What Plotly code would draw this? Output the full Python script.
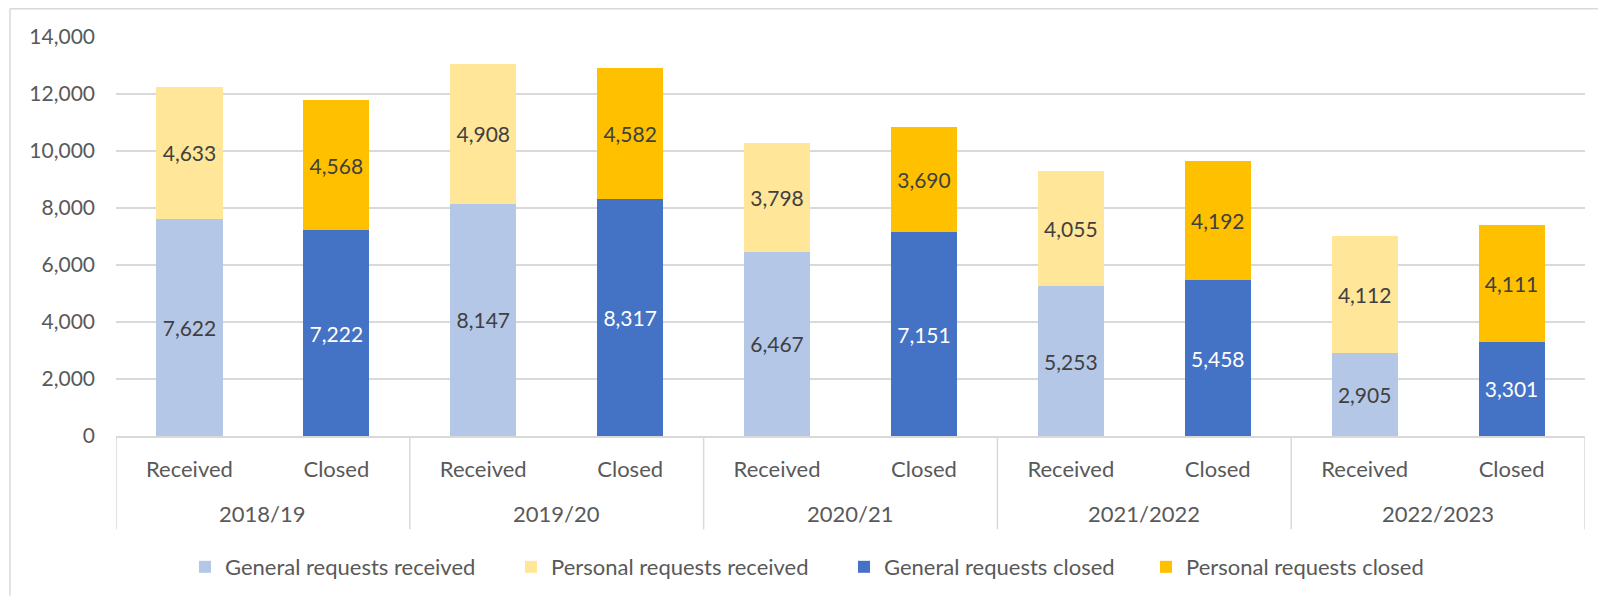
import plotly.graph_objects as go

years = ["2018/19", "2019/20", "2020/21", "2021/2022", "2022/2023"]
subcats = ["Received", "Closed"]
general_received = [7622, 8147, 6467, 5253, 2905]
personal_received = [4633, 4908, 3798, 4055, 4112]
general_closed = [7222, 8317, 7151, 5458, 3301]
personal_closed = [4568, 4582, 3690, 4192, 4111]

# category slots (one per year/sub-category pair)
slots = [(y, s) for y in years for s in subcats]
xpos = list(range(len(slots)))
tick_text = [s for _, s in slots]

def spread(vals, which):
    out = []
    for v in vals:
        for s in subcats:
            out.append(v if s == which else None)
    return out

FONT = "Lato"
TXT = "#595959"
GRID = "#D9D9D9"
series = [
    ("General requests received", spread(general_received, "Received"), "#B4C7E7", "#404040"),
    ("Personal requests received", spread(personal_received, "Received"), "#FFE699", "#404040"),
    ("General requests closed", spread(general_closed, "Closed"), "#4472C4", "#FFFFFF"),
    ("Personal requests closed", spread(personal_closed, "Closed"), "#FFC000", "#404040"),
]

# figure geometry (page has an 8px body margin)
W, H = 1598, 592
L, R, T, B = 108, 21, 29, 161
pw, ph = W - L - R, H - T - B

legend_names = ["legend", "legend2", "legend3", "legend4"]
marker_left_px = [191, 517, 850, 1152]  # figure px of each legend swatch

fig = go.Figure()
for (name, vals, color, tcolor), lg in zip(series, legend_names):
    fig.add_trace(go.Bar(
        name=name, x=xpos, y=vals, width=0.45, legend=lg,
        marker=dict(color=color, line=dict(width=0)),
        texttemplate="%{y:,}", textposition="inside", insidetextanchor="middle",
        textfont=dict(family=FONT, size=21, color=tcolor),
        constraintext="none", hoverinfo="name+y",
    ))

legends = {}
for lg, mx in zip(legend_names, marker_left_px):
    legends[lg] = dict(orientation="h", x=(mx - 14 - L) / pw, xanchor="left",
                       y=(ph - (563 - T)) / ph, yanchor="middle",
                       font=dict(family=FONT, size=22, color=TXT),
                       bgcolor="rgba(0,0,0,0)", borderwidth=0)

shapes = [
    # chart-area border (top and left)
    dict(type="line", xref="paper", yref="paper", x0=(2 - L) / pw, x1=(W - L) / pw,
         y0=(H - B - 0.5) / ph, y1=(H - B - 0.5) / ph, line=dict(color=GRID, width=1.5)),
    dict(type="line", xref="paper", yref="paper", x0=(2 - L) / pw, x1=(2 - L) / pw,
         y0=(H - B - 0.5) / ph, y1=-B / ph, line=dict(color=GRID, width=1.5)),
]
# group dividers below the axis
for k in range(len(years) + 1):
    xd = k * len(subcats) - 0.5
    shapes.append(dict(type="line", xref="x", yref="paper", x0=xd, x1=xd, y0=0, y1=-94 / ph,
                       line=dict(color=GRID, width=1.5)))

annotations = []
for k, yr in enumerate(years):
    annotations.append(dict(text=yr, xref="x", yref="paper", x=k * len(subcats) + 0.5,
                            y=-78 / ph, yanchor="middle", xanchor="center", showarrow=False,
                            font=dict(family=FONT, size=22, color=TXT)))

fig.update_layout(
    width=W, height=H, barmode="stack",
    margin=dict(l=L, r=R, t=T, b=B),
    plot_bgcolor="white", paper_bgcolor="white",
    font=dict(family=FONT, size=22, color=TXT),
    showlegend=True,
    xaxis=dict(range=[-0.5, len(slots) - 0.5], tickvals=xpos, ticktext=tick_text,
               showline=True, linecolor=GRID, linewidth=1.5, showgrid=False, zeroline=False,
               ticks="", ticklabelstandoff=13,
               tickfont=dict(family=FONT, size=22, color=TXT)),
    yaxis=dict(range=[0, 14000], dtick=2000, tickformat=",", showgrid=True,
               gridcolor=GRID, gridwidth=1.5, zeroline=False, showline=False,
               ticks="", ticklabelstandoff=20,
               tickfont=dict(family=FONT, size=21, color=TXT)),
    shapes=shapes, annotations=annotations,
    **legends,
)

fig.write_html("out.html")
